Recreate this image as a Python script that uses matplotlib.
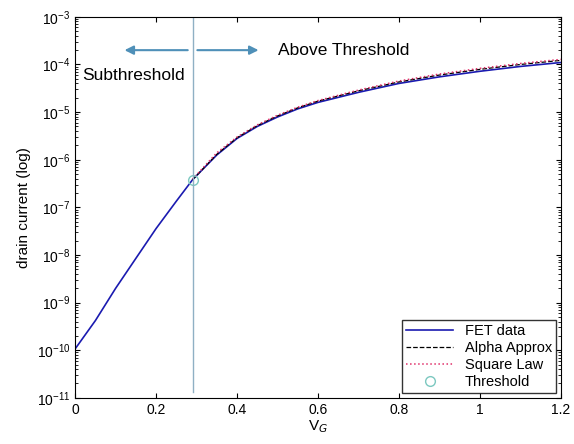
import numpy as np
import matplotlib.pyplot as plt

plt.rcParams['font.family'] = ['Liberation Sans', 'DejaVu Sans']

# gate voltage and measured drain current
vg = [0, 0.05, 0.1, 0.15, 0.2, 0.25, 0.29, 0.35, 0.4, 0.45, 0.5, 0.55, 0.6,
      0.7, 0.8, 0.9, 1.0, 1.1, 1.2]
ids = [1.07e-10, 4.2e-10, 2.0e-9, 8.5e-9, 3.6e-8, 1.35e-7, 3.8e-7, 1.26e-6,
       2.8e-6, 5.0e-6, 7.9e-6, 1.17e-5, 1.6e-5, 2.6e-5, 4.0e-5, 5.5e-5,
       7.2e-5, 9.1e-5, 1.1e-4]

# above threshold models
vg_above = [0.29, 0.35, 0.4, 0.45, 0.5, 0.55, 0.6, 0.7, 0.8, 0.9, 1.0, 1.1, 1.2]
alpha_ids = [3.8e-7, 1.3e-6, 2.9e-6, 5.2e-6, 8.3e-6, 1.23e-5, 1.7e-5, 2.8e-5,
             4.3e-5, 6.0e-5, 7.9e-5, 1.0e-4, 1.22e-4]
square_ids = [3.9e-7, 1.4e-6, 3.0e-6, 5.4e-6, 8.6e-6, 1.27e-5, 1.75e-5, 2.9e-5,
              4.5e-5, 6.3e-5, 8.3e-5, 1.05e-4, 1.28e-4]

vt = 0.29
it = 3.8e-7

fig = plt.figure(figsize=(5.74, 4.44), dpi=100)
ax = fig.add_axes([0.131, 0.104, 0.846, 0.858])

ax.semilogy(vg, ids, color='#1a1ab0', lw=1.2, label='FET data')
ax.semilogy(vg_above, alpha_ids, color='k', ls='--', lw=0.9, label='Alpha Approx')
ax.semilogy(vg_above, square_ids, color='#e0306a', ls=':', lw=1.1, label='Square Law')
ax.semilogy([vt], [it], 'o', mfc='none', mec='#7cc8c0', ms=7, label='Threshold')

ax.plot([vt, vt], [1.3e-11, 1e-3], color='#8fb0c4', lw=1.0)

arrow_col = '#4f90b8'
ax.annotate('', xy=(0.115, 2e-4), xytext=(vt - 0.005, 2e-4),
            arrowprops=dict(arrowstyle='-|>', color=arrow_col, lw=1.5, mutation_scale=13))
ax.annotate('', xy=(0.46, 2e-4), xytext=(vt + 0.005, 2e-4),
            arrowprops=dict(arrowstyle='-|>', color=arrow_col, lw=1.5, mutation_scale=13))
ax.text(0.017, 5.8e-5, 'Subthreshold', fontsize=12.5, va='center', ha='left')
ax.text(0.5, 2e-4, 'Above Threshold', fontsize=12.5, va='center', ha='left')

ax.set_xlim(0, 1.2)
ax.set_ylim(1e-11, 1e-3)
ax.set_xticks([0, 0.2, 0.4, 0.6, 0.8, 1, 1.2])
ax.set_xticklabels(['0', '0.2', '0.4', '0.6', '0.8', '1', '1.2'])
ax.tick_params(which='both', direction='in', top=True, right=True, labelsize=10)
ax.tick_params(which='minor', length=2)

ax.set_xlabel('V$_G$', fontsize=11, labelpad=1)
ax.set_ylabel('drain current (log)', fontsize=11, labelpad=4)
fig.text(0.55, 1.0, 'FET Drain Current I$_{ds}$', ha='center', va='bottom', fontsize=12)

ax.legend(loc='lower right', fontsize=10.5, frameon=True, fancybox=False,
          edgecolor='k', handlelength=3.2, borderaxespad=0.3, labelspacing=0.2,
          borderpad=0.3)

fig.savefig('out.png', dpi=100)
